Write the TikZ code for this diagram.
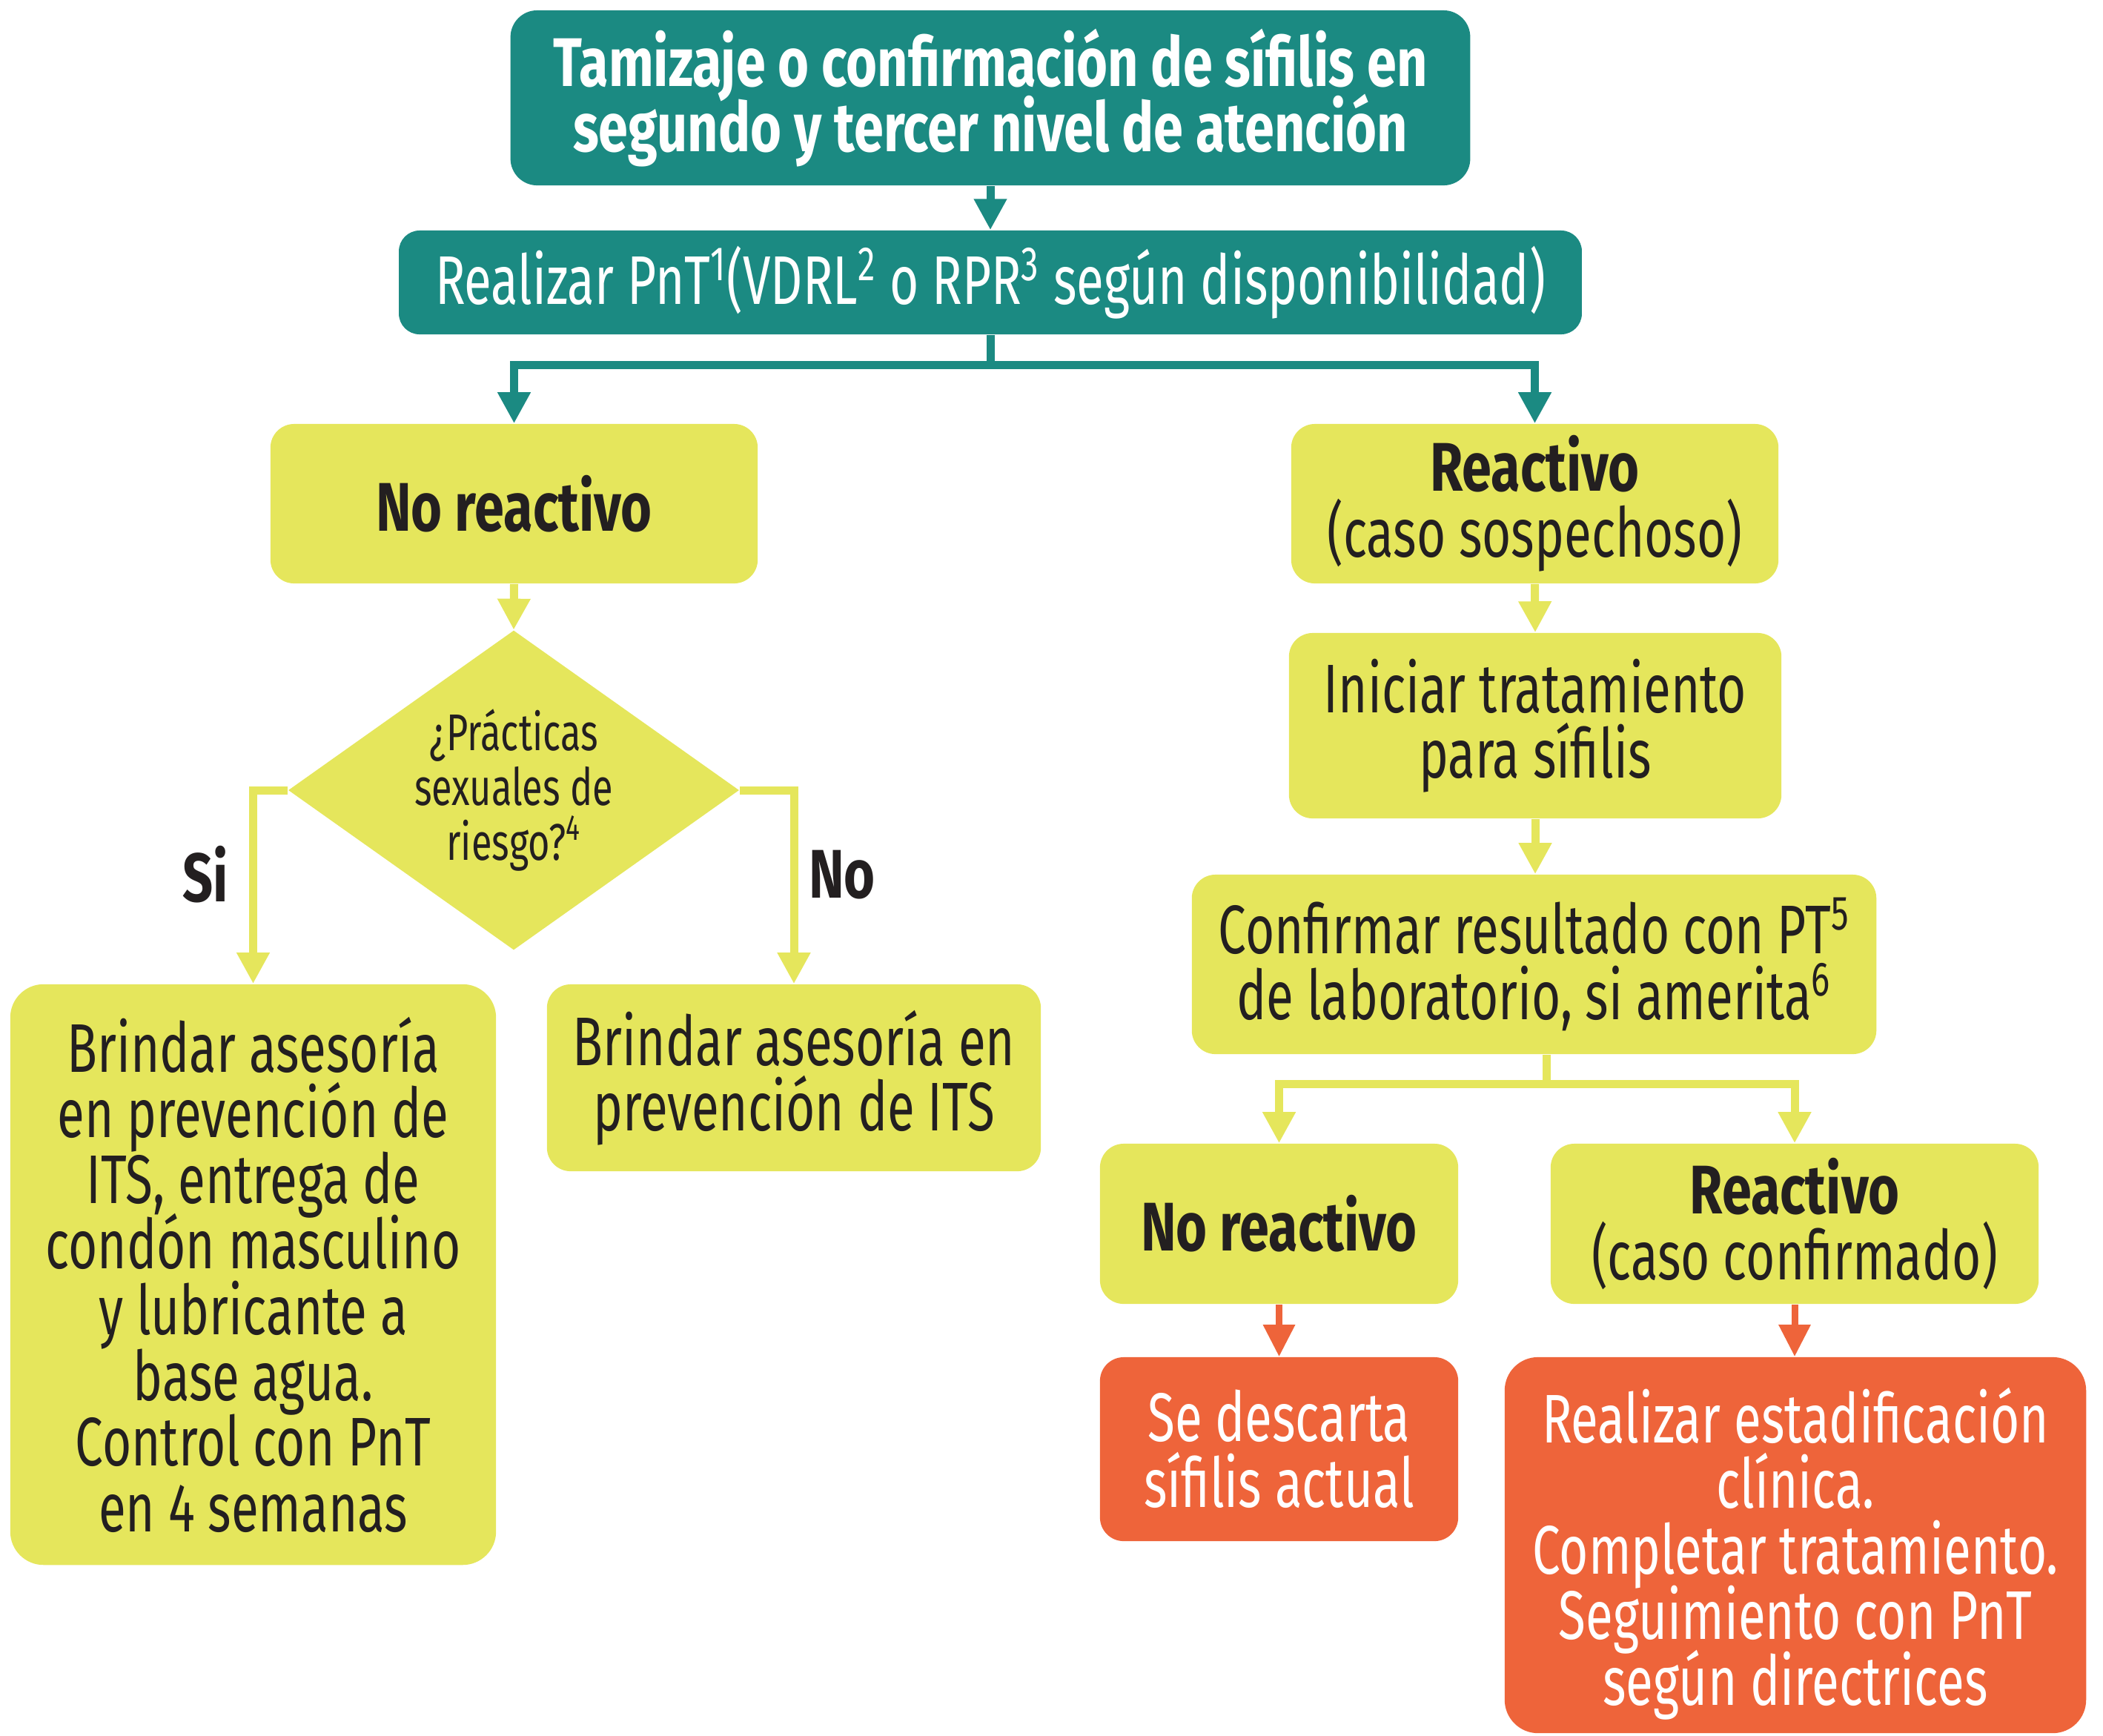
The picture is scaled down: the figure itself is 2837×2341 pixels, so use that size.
\documentclass[tikz,border=0pt]{standalone}
\usepackage{fontspec}
\setmainfont{Fira Sans}[FakeStretch=0.725, BoldFeatures={FakeStretch=0.775}]
\usetikzlibrary{arrows.meta,shapes.geometric}
\definecolor{tealc}{RGB}{27,138,130}
\definecolor{yelc}{RGB}{229,230,92}
\definecolor{orac}{RGB}{238,100,58}
\definecolor{inkc}{RGB}{35,31,32}
\newcommand\tightls{\lineskiplimit=-30pt\relax\lineskip=0pt\relax}
\tikzset{
  txt/.style={font=\fontsize{26.4pt}{25.2pt}\selectfont\tightls},
  base/.style={txt, rounded corners=0.32cm, inner sep=0pt, align=center},
  tealbox/.style={base, fill=tealc, text=white},
  yelbox/.style={base, fill=yelc, text=inkc},
  orabox/.style={base, fill=orac, text=white},
  tarrow/.style={draw=tealc, line width=0.11cm, -{Triangle[width=0.42cm,length=0.42cm]}},
  tline/.style={draw=tealc, line width=0.11cm},
  yarrow/.style={draw=yelc, line width=0.11cm, -{Triangle[width=0.42cm,length=0.42cm]}},
  yline/.style={draw=yelc, line width=0.11cm},
  oarrow/.style={draw=orac, line width=0.09cm, -{Triangle[width=0.41cm,length=0.43cm]}},
  lbl/.style={text=inkc, font=\fontsize{26.4pt}{25.2pt}\selectfont\bfseries}
}
\begin{document}
\begin{tikzpicture}[x=0.01cm, y=-0.01cm]
\useasboundingbox (0,0) rectangle (2837,2341);

\node[tealbox, minimum width=12.94cm, minimum height=2.36cm, rounded corners=0.36cm] (top) at (1336,132)
  {\bfseries Tamizaje o confirmación de sífilis en\\\bfseries segundo y tercer nivel de atención};
\node[tealbox, minimum width=15.95cm, minimum height=1.40cm, rounded corners=0.28cm] (pnt) at (1336,381)
  {Realizar PnT\textsuperscript{1}(VDRL\textsuperscript{2} o RPR\textsuperscript{3} según disponibilidad)};

\node[yelbox, minimum width=6.57cm, minimum height=2.15cm] (nr1) at (693.5,679.5) {\bfseries No reactivo};
\node[yelbox, minimum width=6.57cm, minimum height=2.15cm] (r1) at (2070.5,679.5) {\bfseries Reactivo\\(caso sospechoso)};

\node[diamond, aspect=1.41, fill=yelc, text=inkc, inner sep=0pt, minimum width=6.08cm, minimum height=4.31cm,
  align=center, font=\fontsize{19.8pt}{21pt}\selectfont\tightls] (q) at (693,1066)
  {¿Prácticas\\sexuales de\\riesgo?\textsuperscript{4}};

\node[yelbox, minimum width=6.55cm, minimum height=7.83cm, rounded corners=0.45cm] (bl) at (341.5,1719.5)
  {Brindar asesoría\\en prevención de\\ITS, entrega de\\condón masculino\\y lubricante a\\base agua.\\Control con PnT\\en 4 semanas};
\node[yelbox, minimum width=6.66cm, minimum height=2.52cm] (bm) at (1071,1454)
  {Brindar asesoría en\\prevención de ITS};

\node[lbl] (si) at (277,1180) {Si};
\node[lbl] (no) at (1136,1180) {No};

\node[yelbox, minimum width=6.64cm, minimum height=2.50cm] (ini) at (2071,979) {Iniciar tratamiento\\para sífilis};
\node[yelbox, minimum width=9.23cm, minimum height=2.42cm] (conf) at (2069.5,1301)
  {Confirmar resultado con PT\textsuperscript{5}\\de laboratorio, si amerita\textsuperscript{6}};

\node[yelbox, minimum width=4.83cm, minimum height=2.16cm] (nr2) at (1725.5,1651) {\bfseries No reactivo};
\node[yelbox, minimum width=6.58cm, minimum height=2.16cm] (r2) at (2421,1651) {\bfseries Reactivo\\(caso confirmado)};

\node[orabox, minimum width=4.83cm, minimum height=2.48cm] (desc) at (1725.5,1955) {Se descarta\\sífilis actual};
\node[orabox, minimum width=7.84cm, minimum height=5.07cm, rounded corners=0.45cm] (est) at (2422,2084.5) {};
\node[txt, text=white, align=center, inner sep=0pt] (estt) at (2422,2096)
  {Realizar estadificación\\clínica.\\Completar tratamiento.\\Seguimiento con PnT\\según directrices};

% connectors
\draw[tarrow] (top.south) -- (top.south |- pnt.north);
\coordinate (s1) at (1336,492);
\draw[tline] (pnt.south) -- (s1);
\draw[tarrow] (s1) -| (nr1.north);
\draw[tarrow] (s1) -| (r1.north);

\draw[yarrow] (nr1.south) -- (q.north);
\draw[yarrow] (q.west) -| (bl.north);
\draw[yarrow] (q.east) -| (bm.north);

\draw[yarrow] (r1.south) -- (ini.north);
\draw[yarrow] (ini.south) -- (ini.south |- conf.north);
\coordinate (s2) at (2086,1462);
\draw[yline] (conf.south -| s2) -- (s2);
\draw[yarrow] (s2) -| (nr2.north);
\draw[yarrow] (s2) -| (r2.north);

\draw[oarrow] (nr2.south) -- (desc.north);
\draw[oarrow] (r2.south) -- (r2.south |- est.north);
\end{tikzpicture}
\end{document}
